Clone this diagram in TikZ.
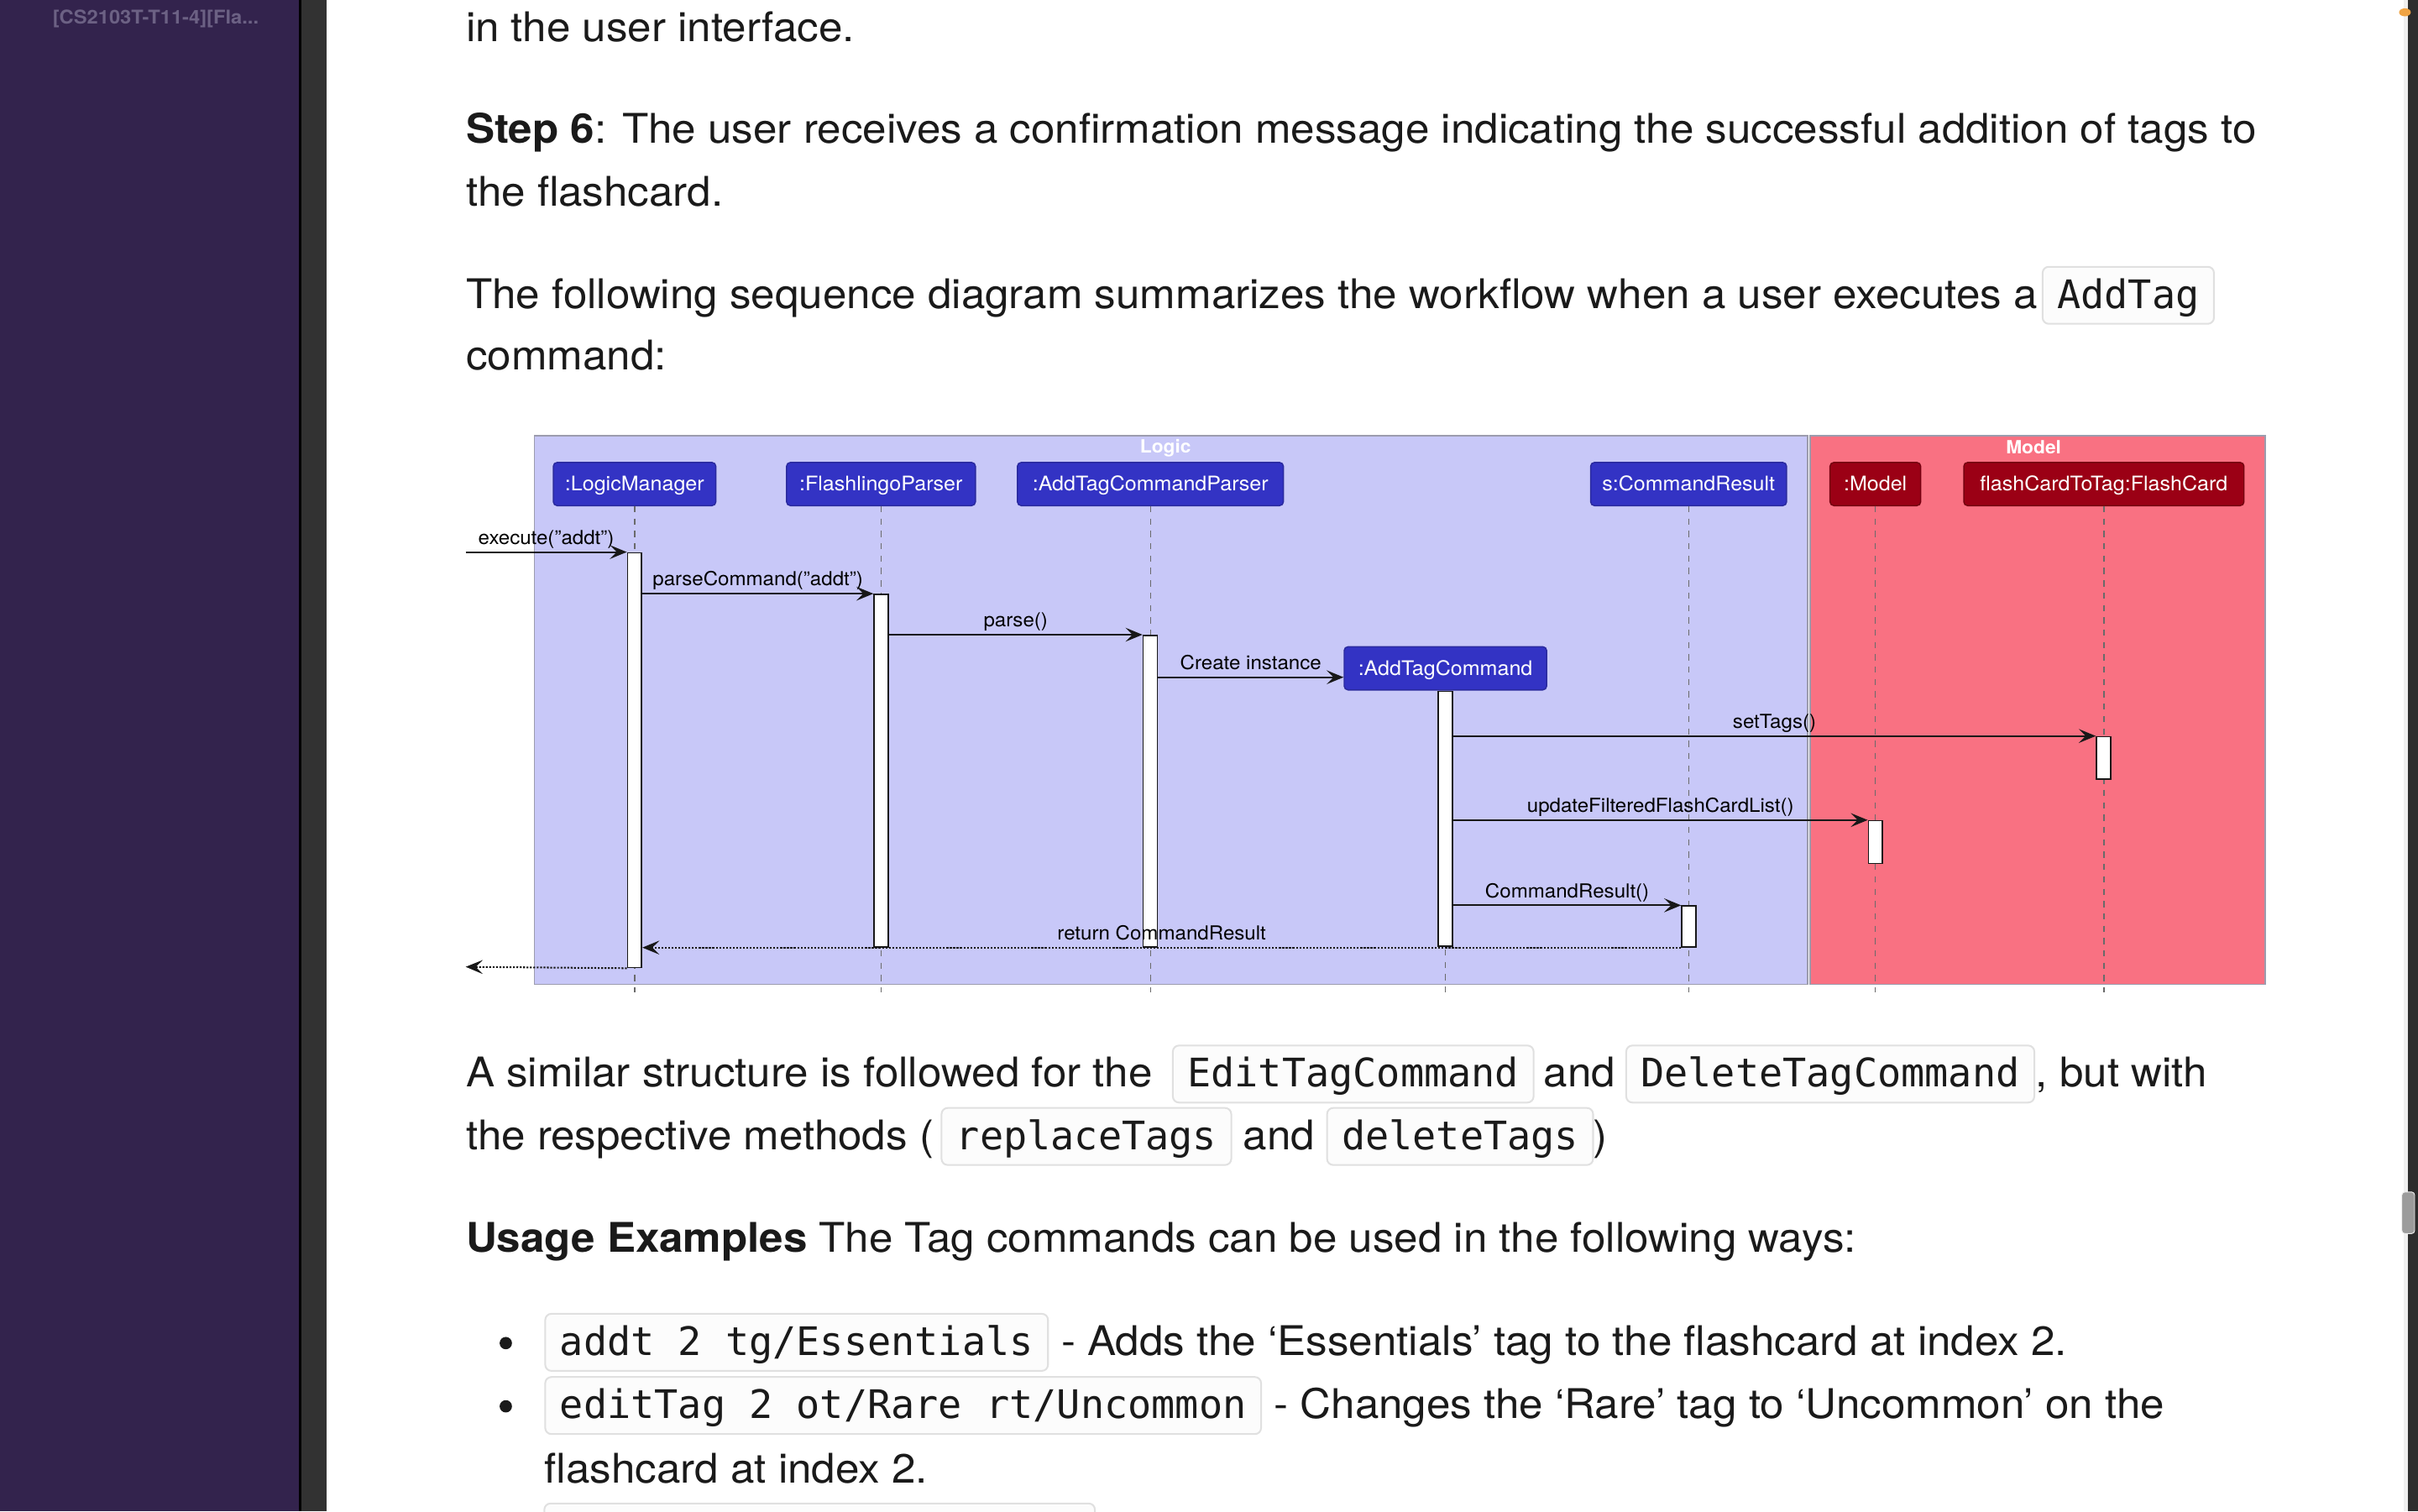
\documentclass[tikz,border=0pt]{standalone}
\usepackage{fontspec}
\setmainfont[FakeStretch=1.05]{TeX Gyre Heros}
\setmonofont{DejaVu Sans Mono}
\usetikzlibrary{arrows.meta}
\definecolor{sidebar}{HTML}{33234D}
\definecolor{sidetext}{HTML}{6C6184}
\definecolor{gutter}{HTML}{323232}
\definecolor{trackL}{HTML}{EFEFEF}
\definecolor{trackD}{HTML}{2D2D2D}
\definecolor{thumbC}{HTML}{9C9C9C}
\definecolor{dotC}{HTML}{F0A444}
\definecolor{txt}{HTML}{1A1A1A}
\definecolor{codebd}{HTML}{E0E0E0}
\definecolor{codebg}{HTML}{FCFCFC}
\definecolor{logicbg}{HTML}{C8C8F8}
\definecolor{modelbg}{HTML}{F97182}
\definecolor{framec}{HTML}{9C9CAE}
\definecolor{partblue}{HTML}{3333C4}
\definecolor{partbluebd}{HTML}{2A2A9E}
\definecolor{partred}{HTML}{9B0015}
\definecolor{partredbd}{HTML}{750010}
\definecolor{lifec}{HTML}{6A6A6A}
\definecolor{msgc}{HTML}{181818}
\newcommand\mybody{\fontsize{26.5pt}{32pt}\selectfont}
\newcommand\mycode{\ttfamily\fontsize{25.5pt}{30pt}\selectfont}
\newcommand\mylbl{\fontsize{12.5pt}{14pt}\selectfont}
\newcommand\mypart{\fontsize{13pt}{15pt}\selectfont}
\newcommand\myttl{\bfseries\fontsize{11.8pt}{14pt}\selectfont}
\newcommand\myside{\bfseries\fontsize{12.3pt}{15pt}\selectfont}
\begin{document}
\begin{tikzpicture}[x=1pt,y=-1pt,
  body/.style={anchor=base west, inner sep=0pt, text=txt, font=\mybody},
  codebox/.style={anchor=base west, draw=codebd, fill=codebg, rounded corners=4pt, line width=1.1pt,
    text height=20pt, text depth=3pt, inner xsep=9.5pt, inner ysep=7pt, text=txt, font=\mycode},
  frame/.style={draw=framec, line width=0.9pt, anchor=north west, inner sep=0pt, minimum height=355.7pt},
  ttl/.style={text=white, font=\myttl, inner sep=0pt},
  part/.style={draw=partbluebd, fill=partblue, text=white, rounded corners=2.5pt, minimum height=28pt,
    inner xsep=0pt, inner ysep=0pt, text height=11pt, text depth=2pt, font=\mypart, line width=0.8pt},
  mpart/.style={part, draw=partredbd, fill=partred},
  life/.style={draw=lifec, line width=0.75pt, dash pattern=on 4pt off 4pt},
  bar/.style={draw=msgc, fill=white, line width=0.9pt, minimum width=9.2pt, inner sep=0pt, anchor=north},
  msg/.style={draw=msgc, line width=1.1pt, -{Stealth[length=11pt,width=9pt,inset=4.5pt]}},
  ret/.style={msg, dash pattern=on 1.2pt off 1pt},
  lbl/.style={font=\mylbl, text=black, inner sep=0pt, anchor=base, yshift=5pt, midway}
]
\useasboundingbox (0,0) rectangle (1568,980);
% page chrome
\fill[sidebar] (0,0) rectangle (194,980);
\fill[black] (194,0) rectangle (195.5,980);
\fill[gutter] (195.5,0) rectangle (212,980);
\fill[white] (212,0) rectangle (1558.8,980);
\fill[trackL] (1558.8,0) rectangle (1561.5,980);
\fill[trackD] (1561.5,0) rectangle (1568,980);
\filldraw[fill=thumbC, draw=trackL, line width=0.5pt, rounded corners=2pt] (1557.5,773) rectangle (1565.8,800);
\fill[dotC] (1559.5,8) ellipse (3.8 and 2.6);
\node[anchor=base west, inner sep=0pt, text=sidetext, font=\myside] (side) at (34,15.5) {[CS2103T-T11-4][Fla...};

% text above diagram
\node[body] (t1) at (302,27) {in the user interface.};
\node[body] (t2) at (302,93) {\textbf{Step 6}: The user receives a confirmation message indicating the successful addition of tags to};
\node[body] (t3) at (302,133.5) {the flashcard.};
\node[body] (t4) at (302,200) {The following sequence diagram summarizes the workflow when a user executes a};
\node[codebox] (c1) at (1324,200) {AddTag};
\node[body] (t5) at (302,240) {command:};

% diagram frames
\node[frame, fill=logicbg, minimum width=825.7pt] (logic) at (346,282.2) {};
\node[frame, fill=modelbg, minimum width=295pt] (model) at (1173.4,282.2) {};
\node[ttl] (logicT) at (755.8,290.4) {Logic};
\node[ttl] (modelT) at (1318.7,289.8) {Model};

% participants
\node[part, minimum width=105.4pt] (lm) at (411.5,313.9) {:LogicManager};
\node[part, minimum width=122.5pt] (fp) at (571.3,313.9) {:FlashlingoParser};
\node[part, minimum width=172.5pt] (atcp) at (746,313.9) {:AddTagCommandParser};
\node[part, minimum width=127.1pt] (scr) at (1095,313.9) {s:CommandResult};
\node[mpart, minimum width=58.8pt] (mdl) at (1216.1,313.9) {:Model};
\node[mpart, minimum width=181.7pt] (fc) at (1364.3,313.9) {flashCardToTag:FlashCard};
\node[part, minimum width=131.3pt] (atc) at (937.3,433.4) {:AddTagCommand};

% lifelines
\coordinate (lifeEnd) at (0,643.4);
\foreach \p in {lm,fp,atcp,scr,mdl,fc,atc}{
  \draw[life] (\p.south) -- (\p.south |- lifeEnd);
}

% activation bars
\node[bar, minimum height=269pt] (lmA) at (411.5,358) {};
\node[bar, minimum height=228.8pt] (fpA) at (571.4,385) {};
\node[bar, minimum height=202.2pt] (atcpA) at (745.9,411.6) {};
\node[bar, minimum height=165.5pt] (atcA) at (atc.south) {};
\node[bar, minimum height=27.6pt] (fcA) at (1364.1,477.3) {};
\node[bar, minimum height=27.7pt] (mdlA) at (1216.2,531.8) {};
\node[bar, minimum height=26.5pt] (scrA) at (1095.2,587.1) {};

% messages
\coordinate (exS) at (302,358);
\coordinate (exE) at (302,627);
\coordinate (ciY) at (0,439.2);
\draw[msg] (exS) -- node[lbl] {execute("addt")} (lmA.north west);
\draw[msg] (lmA.east |- fpA.north) -- node[lbl] {parseCommand("addt")} (fpA.north west);
\draw[msg] (fpA.east |- atcpA.north) -- node[lbl] {parse()} (atcpA.north west);
\draw[msg] (atcpA.east |- ciY) -- node[lbl] {Create instance} (atc.west |- ciY);
\draw[msg] (atcA.east |- fcA.north) -- node[lbl] {setTags()} (fcA.north west);
\draw[msg] (atcA.east |- mdlA.north) -- node[lbl] {updateFilteredFlashCardList()} (mdlA.north west);
\draw[msg] (atcA.east |- scrA.north) -- node[lbl] {CommandResult()} (scrA.north west);
\draw[ret] (scrA.south west) -- node[lbl] {return CommandResult} (lmA.east |- scrA.south);
\draw[ret] (lmA.south west) -- (exE);

% text below diagram
\node[body] (t6a) at (302,705) {A similar structure is followed for the};
\node[codebox] (c2) at (760,705) {EditTagCommand};
\node[body] (t6b) at (1001,705) {and};
\node[codebox] (c3) at (1054,705) {DeleteTagCommand};
\node[body] (t6c) at (1320,705) {, but with};
\node[body] (t7a) at (302,745.5) {the respective methods (};
\node[codebox] (c4) at (610,745.5) {replaceTags};
\node[body] (t7b) at (806,745.5) {and};
\node[codebox] (c5) at (860,745.5) {deleteTags};
\node[body] (t7c) at (1033,745.5) {)};
\node[body] (t8) at (302,812) {\textbf{Usage Examples} The Tag commands can be used in the following ways:};
\fill[txt] (328,871) circle (4);
\node[codebox] (c6) at (353,879) {addt 2 tg/Essentials};
\node[body] (t9) at (688,879) {- Adds the ‘Essentials’ tag to the flashcard at index 2.};
\fill[txt] (328,912) circle (4);
\node[codebox] (c7) at (353,920) {editTag 2 ot/Rare rt/Uncommon};
\node[body] (t10) at (826,920) {- Changes the ‘Rare’ tag to ‘Uncommon’ on the};
\node[body] (t11) at (353,962) {flashcard at index 2.};
\filldraw[draw=codebd, fill=codebg, rounded corners=4pt, line width=1.1pt] (353,975) rectangle (710,1015);
\end{tikzpicture}
\end{document}
